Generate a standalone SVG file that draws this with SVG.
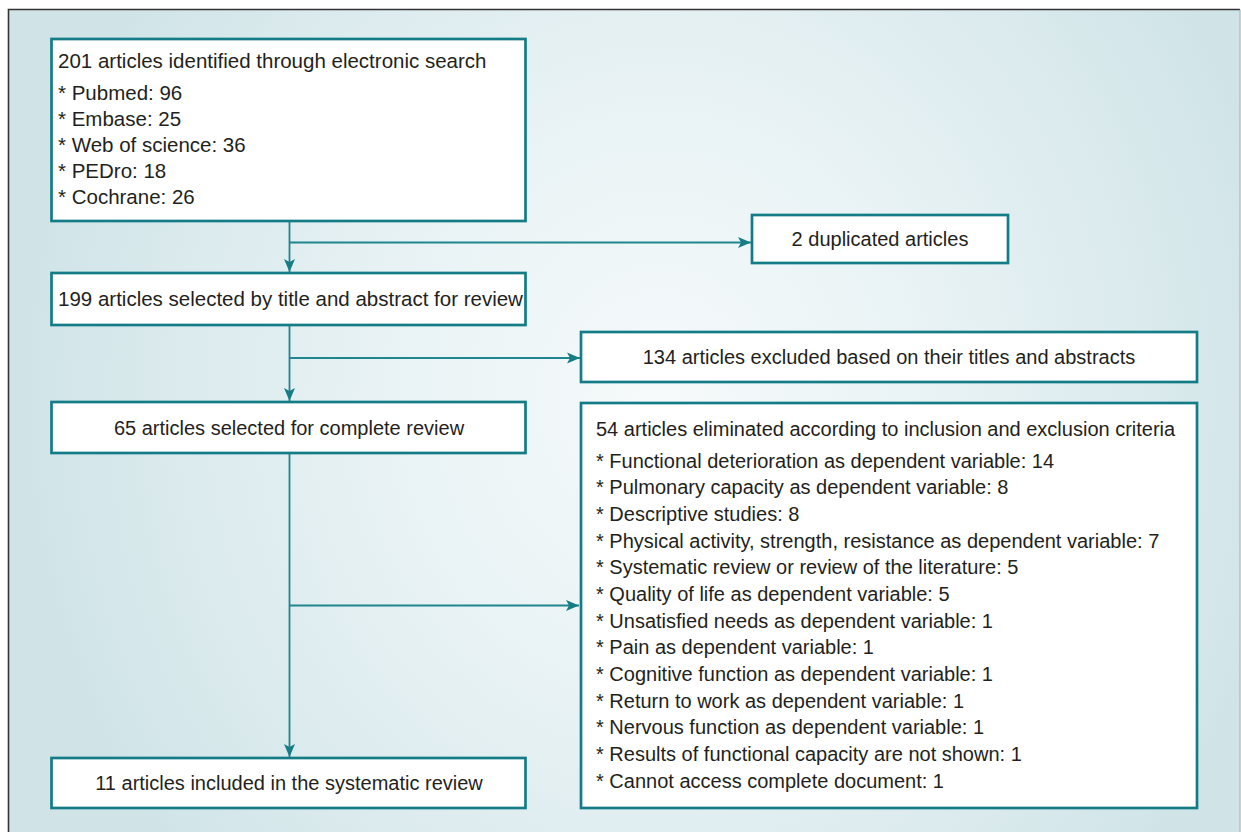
<svg xmlns="http://www.w3.org/2000/svg" width="1241" height="832" viewBox="0 0 1241 832">
  <defs>
    <radialGradient id="bg" gradientUnits="userSpaceOnUse" cx="660" cy="400" r="640" gradientTransform="translate(660 400) scale(1 1.1) translate(-660 -400)">
      <stop offset="0" stop-color="#f6fafb"/>
      <stop offset="0.45" stop-color="#e8f2f4"/>
      <stop offset="1" stop-color="#d0e4e8"/>
    </radialGradient>
    <marker id="arr" markerUnits="userSpaceOnUse" markerWidth="14" markerHeight="12" refX="13" refY="6" orient="auto" viewBox="0 0 14 12">
      <path d="M0,0.5 L13,6 L0,11.5 L3,6 Z" fill="#167d86"/>
    </marker>
    <style>
      .box { fill: #ffffff; stroke: #137c86; stroke-width: 2.7; }
      .ln { fill: none; stroke: #1f858e; stroke-width: 1.8; }
      .t { font-family: "Liberation Sans", Arial, sans-serif; font-size: 20px; fill: #231f20; }
      .l { font-size: 20.5px; }
      .c { text-anchor: middle; }
    </style>
  </defs>

  <rect x="0" y="0" width="1241" height="832" fill="#ffffff"/>
  <rect x="8.5" y="9.5" width="1231" height="823" fill="url(#bg)"/>
  <path d="M8.5,832 L8.5,9.5 L1240,9.5" fill="none" stroke="#333333" stroke-width="1.6"/>
  <path d="M1240,9.5 L1240,832" fill="none" stroke="#8fa2a5" stroke-width="1"/>

  <g id="connectors">
    <path class="ln" d="M289.5,221 L289.5,272" marker-end="url(#arr)"/>
    <path class="ln" d="M289.5,242.5 L751,242.5" marker-end="url(#arr)"/>
    <path class="ln" d="M289.5,325 L289.5,401" marker-end="url(#arr)"/>
    <path class="ln" d="M289.5,358 L580,358" marker-end="url(#arr)"/>
    <path class="ln" d="M289.5,453 L289.5,757" marker-end="url(#arr)"/>
    <path class="ln" d="M289.5,605.5 L579,605.5" marker-end="url(#arr)"/>
  </g>

  <g id="identified">
    <rect class="box" x="51.5" y="39" width="474" height="182"/>
    <text class="t l" x="58" y="68">201 articles identified through electronic search</text>
    <text class="t l" x="58" y="100">* Pubmed: 96</text>
    <text class="t l" x="58" y="126">* Embase: 25</text>
    <text class="t l" x="58" y="152">* Web of science: 36</text>
    <text class="t l" x="58" y="178">* PEDro: 18</text>
    <text class="t l" x="58" y="204">* Cochrane: 26</text>
  </g>

  <g id="duplicated">
    <rect class="box" x="752" y="215" width="256" height="48"/>
    <text class="t c" x="880" y="246">2 duplicated articles</text>
  </g>

  <g id="selected-title">
    <rect class="box" x="51.5" y="273" width="474" height="52"/>
    <text class="t l" x="58" y="306">199 articles selected by title and abstract for review</text>
  </g>

  <g id="excluded-title">
    <rect class="box" x="581" y="332" width="616" height="50"/>
    <text class="t c" x="889" y="364">134 articles excluded based on their titles and abstracts</text>
  </g>

  <g id="complete-review">
    <rect class="box" x="51.5" y="402" width="474" height="51"/>
    <text class="t c" x="289" y="435">65 articles selected for complete review</text>
  </g>

  <g id="eliminated">
    <rect class="box" x="581" y="403" width="616" height="405"/>
    <text class="t" x="596" y="436">54 articles eliminated according to inclusion and exclusion criteria</text>
    <text class="t" x="596" y="467.7">* Functional deterioration as dependent variable: 14</text>
    <text class="t" x="596" y="494.3">* Pulmonary capacity as dependent variable: 8</text>
    <text class="t" x="596" y="521">* Descriptive studies: 8</text>
    <text class="t" x="596" y="547.7">* Physical activity, strength, resistance as dependent variable: 7</text>
    <text class="t" x="596" y="574.3">* Systematic review or review of the literature: 5</text>
    <text class="t" x="596" y="601">* Quality of life as dependent variable: 5</text>
    <text class="t" x="596" y="627.7">* Unsatisfied needs as dependent variable: 1</text>
    <text class="t" x="596" y="654.3">* Pain as dependent variable: 1</text>
    <text class="t" x="596" y="681">* Cognitive function as dependent variable: 1</text>
    <text class="t" x="596" y="707.7">* Return to work as dependent variable: 1</text>
    <text class="t" x="596" y="734.3">* Nervous function as dependent variable: 1</text>
    <text class="t" x="596" y="761">* Results of functional capacity are not shown: 1</text>
    <text class="t" x="596" y="787.7">* Cannot access complete document: 1</text>
  </g>

  <g id="included">
    <rect class="box" x="51.5" y="758" width="474" height="50"/>
    <text class="t c" x="289" y="790">11 articles included in the systematic review</text>
  </g>
</svg>
